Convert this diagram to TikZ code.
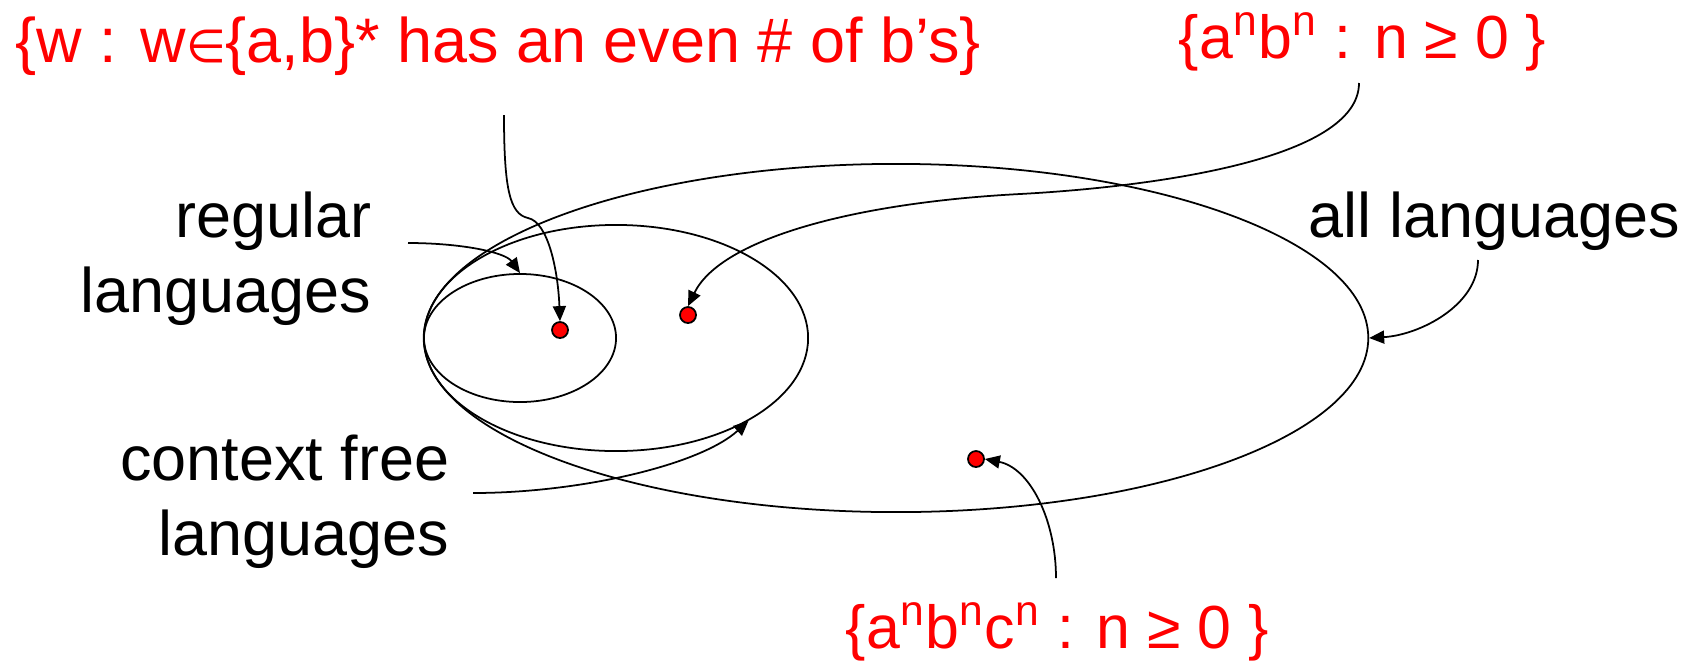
\documentclass[tikz,border=0pt]{standalone}
\usepackage{fontspec}
\setmainfont{Liberation Sans}
\newfontfamily\symf{DejaVu Sans}
\usetikzlibrary{arrows.meta,shapes.geometric}
\definecolor{setred}{HTML}{FF0000}

\begin{document}
\begin{tikzpicture}[x=0.01cm,y=-0.01cm,>={Triangle[length=1.5mm,width=1.3mm]},
  font=\fontsize{17.9}{21.3}\selectfont,line width=0.5pt,
  lang/.style={draw,ellipse,inner sep=0pt},
  pt/.style={circle,draw,fill=setred,minimum size=1.6mm,inner sep=0pt},
  lab/.style={inner sep=0pt},
  ex/.style={lab,text=setred},
  exs/.style={ex,font=\fontsize{17.3}{21}\selectfont}]
  \useasboundingbox (0,0) rectangle (1696,663);
  % the three classes, all touching on the left
  \node[lang,minimum width=94.4mm,minimum height=34.8mm] (all) at (896,338) {};
  \node[lang,minimum width=38.4mm,minimum height=22.6mm] (cf) at (616,338) {};
  \node[lang,minimum width=19.2mm,minimum height=12.8mm] (reg) at (520,338) {};
  % sample languages
  \node[pt] (even) at (560,330) {};
  \node[pt] (anbn) at (688,315) {};
  \node[pt] (anbncn) at (976,459) {};
  % labels (base of the last line for the two-line ones)
  \node[ex,anchor=base west] (evenl) at (15,62)
    {\{w : w{\symf\fontsize{13}{13}\selectfont ∈}\{a,b\}* has an even \# of b’s\}};
  \node[exs,anchor=base west] (anbnl) at (1178,58)
    {\{a\textsuperscript{n}b\textsuperscript{n} : n ≥ 0 \}};
  \node[exs,anchor=base west] (anbncnl) at (845,648)
    {\{a\textsuperscript{n}b\textsuperscript{n}c\textsuperscript{n} : n ≥ 0 \}};
  \node[lab,anchor=base west] (alll) at (1308,237) {all languages};
  \node[lab,align=right,anchor=base east] (regl) at (372,312) {regular\\languages};
  \node[lab,align=right,anchor=base east] (cfl) at (450,555) {context free\\languages};
  % free ends of the arrows
  \coordinate (s1) at (504,115);
  \coordinate (s2) at (408,243);
  \coordinate (s3) at (1359,83);
  \coordinate (s4) at (1478,260);
  \coordinate (s5) at (473,493);
  \coordinate (s6) at (1056,578);
  \draw[->] (s1) .. controls (504,190) and (510,214) .. (528,218)
    .. controls (548,222) and (558,270) .. (even.north);
  \draw[->] (s2) .. controls (460,243) and (505,252) .. (reg.north);
  \draw[->] (s3) .. controls (1359,160) and (1150,187) .. (1020,194)
    .. controls (850,203) and (720,240) .. (anbn.north);
  \draw[->] (s4) .. controls (1478,305) and (1420,335) .. (all.east);
  \draw[->] (s5) .. controls (580,493) and (700,465) .. (cf.-32);
  \draw[->] (s6) .. controls (1056,520) and (1030,468) .. (anbncn.east);
\end{tikzpicture}
\end{document}
